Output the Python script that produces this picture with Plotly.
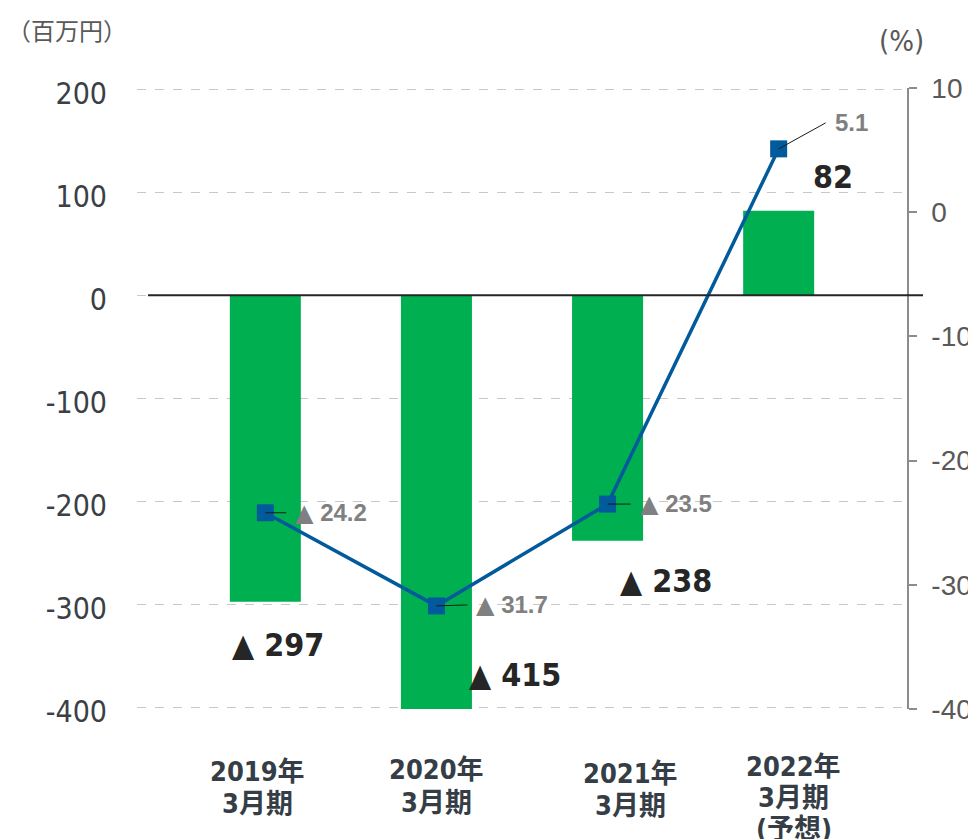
import plotly.graph_objects as go

# data
periods = ["2019年3月期", "2020年3月期", "2021年3月期", "2022年3月期(予想)"]
period_lines = [["2019年", "3月期"], ["2020年", "3月期"], ["2021年", "3月期"],
                ["2022年", "3月期", "(予想)"]]
profit = [-297, -415, -238, 82]          # 百万円
margin_pct = [-24.2, -31.7, -23.5, 5.1]   # %
profit_text = ["▲ 297", "▲ 415", "▲ 238", "82"]
margin_text = ["▲ 24.2", "▲ 31.7", "▲ 23.5", "5.1"]
left_ticks = [-400, -300, -200, -100, 0, 100, 200]
right_ticks = [-40, -30, -20, -10, 0, 10]

GREEN = "#00b050"
BLUE = "#005a9c"
COND = "DejaVu Sans Condensed, DejaVu Sans, Noto Sans CJK JP"
TRI = '<span style="font-family:DejaVu Sans">▲</span>'

fig = go.Figure()
fig.add_trace(go.Bar(x=periods, y=profit, marker=dict(color=GREEN, line=dict(width=0)),
                     width=0.415, yaxis="y"))
fig.add_trace(go.Scatter(x=periods, y=margin_pct, yaxis="y2", mode="lines+markers",
                         line=dict(color=BLUE, width=3.5),
                         marker=dict(symbol="square", size=17, color=BLUE)))

annotations = []

# bar value labels (xshift px, y in 百万円)
bar_label_pos = [(13, -339), (79, -368), (58, -277), (54, 115)]
for p, t, (dx, yy) in zip(periods, profit_text, bar_label_pos):
    annotations.append(dict(x=p, y=yy, xref="x", yref="y", text=t, showarrow=False,
                            xshift=dx, font=dict(family=COND, size=32, color="#262626",
                                                 weight="bold")))

# margin labels with leader lines
leader = [(21, 0), (31, -1), (23, 0), (47, -26)]
for p, v, t, (ax, ay) in zip(periods, margin_pct, margin_text, leader):
    annotations.append(dict(x=p, y=v, xref="x", yref="y2", text=t.replace("▲", TRI),
                            showarrow=True, ax=ax, ay=ay, xanchor="left", yanchor="middle",
                            arrowhead=0, arrowwidth=1, arrowcolor="#1a1a1a",
                            borderpad=8, standoff=0,
                            font=dict(family="Liberation Sans, Arial, DejaVu Sans",
                                      size=24, color="#808080", weight="bold")))

# category labels, one annotation per line
label_xshift = [-8, 0, 23, 15]
label_yshift = [[-62, -94], [-60, -93], [-64, -96], [-57, -88, -119]]
for p, lines, dx, dys in zip(periods, period_lines, label_xshift, label_yshift):
    for line, dy in zip(lines, dys):
        annotations.append(dict(x=p, y=0, xref="x", yref="paper", text=line,
                                showarrow=False, xshift=dx, yshift=dy, yanchor="middle",
                                font=dict(family=COND, size=27, color="#353e46",
                                          weight="bold")))

annotations.append(dict(x=-0.171, y=1.095, xref="paper", yref="paper", text="（百万円）",
                        showarrow=False, xanchor="left", yanchor="middle",
                        font=dict(family="Noto Sans CJK JP", size=24, color="#595959")))
annotations.append(dict(x=0.9935, y=1.0757, xref="paper", yref="paper", text="(%)",
                        showarrow=False, xanchor="center", yanchor="middle",
                        font=dict(family=COND, size=29, color="#595959")))

# black zero line reaching past the right axis
shapes = [dict(type="line", xref="paper", yref="y", x0=0.0143, x1=1.0208, y0=0, y1=0,
               line=dict(color="#262626", width=2))]

# page body has an 8px margin, so the plot area is laid out 8px up/left
fig.update_layout(
    width=976, height=839,
    margin=dict(l=129, r=77, t=80, b=138),
    paper_bgcolor="white", plot_bgcolor="white",
    showlegend=False,
    annotations=annotations,
    shapes=shapes,
    xaxis=dict(type="category", range=[-0.75, 3.75], showticklabels=False,
               showgrid=False, zeroline=False, showline=False),
    yaxis=dict(range=[-401, 201], tickvals=left_ticks,
               ticktext=[str(v) for v in left_ticks],
               showgrid=True, gridcolor="#c8c8c8",
               griddash="dash", gridwidth=1, zeroline=False, showline=False, ticks="",
               ticklabelstandoff=29, ticklabelshift=4,
               tickfont=dict(family=COND, size=30, color="#3a4046")),
    yaxis2=dict(range=[-40, 10], tickvals=right_ticks,
                ticktext=[str(v) for v in right_ticks],
                overlaying="y", side="right",
                showgrid=False, zeroline=False, showline=True, linecolor="#8c8c8c",
                linewidth=1.5, ticks="outside", ticklen=8, tickcolor="#8c8c8c",
                tickwidth=1.5, ticklabelstandoff=9,
                tickfont=dict(family="Liberation Sans, Arial", size=28, color="#595959")),
)

fig.write_html("out.html")
